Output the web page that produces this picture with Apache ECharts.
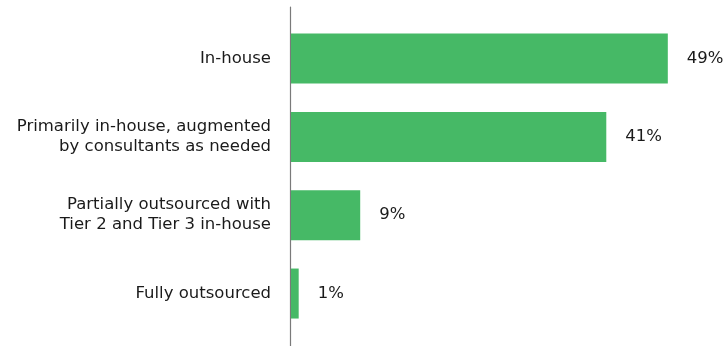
<!DOCTYPE html>
<html>
<head>
<meta charset="utf-8">
<script src="https://cdn.jsdelivr.net/npm/echarts@6/dist/echarts.min.js"></script>
<style>
  html, body { margin: 0; padding: 0; background: #fff; }
  #chart { width: 728px; height: 346px; }
</style>
</head>
<body>
<div id="chart"></div>
<script>
// Support-model categories, top to bottom
const categories = [
  'In-house',
  'Primarily in-house, augmented\nby consultants as needed',
  'Partially outsourced with\nTier 2 and Tier 3 in-house',
  'Fully outsourced'
];
// Share of respondents (%)
const shares = [49, 41, 9, 1];

const FONT = '"DejaVu Sans", sans-serif';
const TEXT = '#1a1a1a';
const BAR = '#46b966';

const chart = echarts.init(document.getElementById('chart'), null, { renderer: 'canvas' });
chart.setOption({
  animation: false,
  backgroundColor: '#fff',
  grid: [
    { left: 291, right: 52.5, top: 19.4, height: 313.3, containLabel: false },
    // full-height grid used only for the tall vertical axis rule
    { left: 290.5, right: 52.5, top: 7, bottom: 0, containLabel: false }
  ],
  xAxis: [
    { gridIndex: 0, type: 'value', min: 0, max: 50, show: false },
    { gridIndex: 1, type: 'value', min: 0, max: 50, show: false }
  ],
  yAxis: [
    {
      gridIndex: 0,
      type: 'category',
      data: categories,
      inverse: true,
      axisLine: { show: false },
      axisTick: { show: false },
      axisLabel: {
        margin: 20,
        color: TEXT,
        fontFamily: FONT,
        fontSize: 16.5,
        lineHeight: 20,
        align: 'right'
      }
    },
    {
      gridIndex: 1,
      type: 'category',
      data: [''],
      axisLine: { show: true, lineStyle: { color: '#7a7a7a', width: 1.2 } },
      axisTick: { show: false },
      axisLabel: { show: false }
    }
  ],
  series: [{
    type: 'bar',
    xAxisIndex: 0,
    yAxisIndex: 0,
    data: shares,
    barWidth: 50,
    itemStyle: { color: BAR },
    label: {
      show: true,
      position: 'right',
      distance: 19,
      formatter: p => p.value + '%',
      color: TEXT,
      fontFamily: FONT,
      fontSize: 16.5
    }
  }]
});
</script>
</body>
</html>
